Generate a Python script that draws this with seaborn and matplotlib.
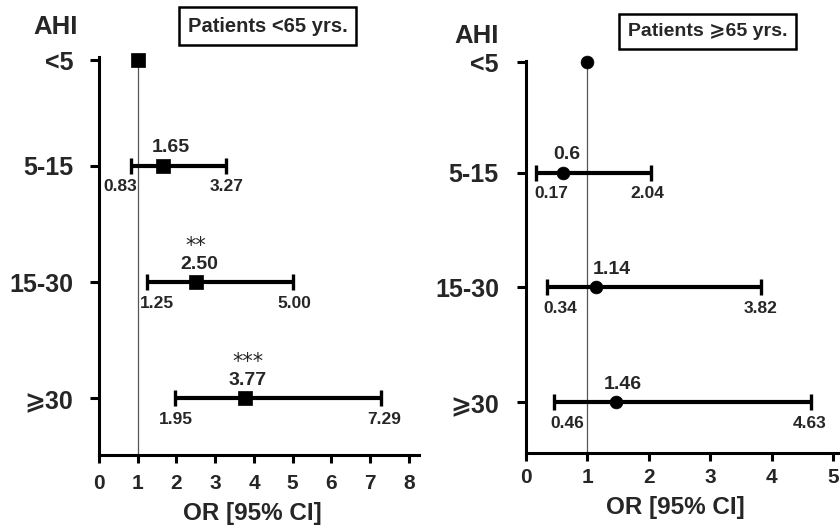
import numpy as np
import pandas as pd
import matplotlib
matplotlib.use("Agg")
import matplotlib.pyplot as plt
import seaborn as sns

# ---------------- data ----------------
categories = ['<5', '5-15', '15-30', '⩾30']

or_young = [1.00, 1.65, 2.50, 3.77]
lo_young = [np.nan, 0.83, 1.25, 1.95]
hi_young = [np.nan, 3.27, 5.00, 7.29]
or_young_txt = ['', '1.65', '2.50', '3.77']
lo_young_txt = ['', '0.83', '1.25', '1.95']
hi_young_txt = ['', '3.27', '5.00', '7.29']
stars_young = ['', '', '**', '***']

or_old = [1.00, 0.60, 1.14, 1.46]
lo_old = [np.nan, 0.17, 0.34, 0.46]
hi_old = [np.nan, 2.04, 3.82, 4.63]
or_old_txt = ['', '0.6', '1.14', '1.46']
lo_old_txt = ['', '0.17', '0.34', '0.46']
hi_old_txt = ['', '2.04', '3.82', '4.63']
stars_old = ['', '', '', '']

xticks_young = [0, 1, 2, 3, 4, 5, 6, 7, 8]
xticks_old = [0, 1, 2, 3, 4, 5]

title_young = 'Patients <65 yrs.'
title_old = 'Patients ⩾65 yrs.'

# ---------------- layout / style ----------------
# row positions on the category axis (top row sits a little lower in the figure)
rows_young = [0.09, 1, 2, 3]
rows_old = [0.04, 1, 2, 3]
# label nudges in pixels
nudge_young = dict(val=[0, 8, 3, 3], lo=[0, -11, 10, 1], hi=[0, 1, 2, 3], star=[0, 0, 0, 3])
nudge_old = dict(val=[0, 4, 16, 7], lo=[0, 15, 13, 13], hi=[0, -4, 0, -1], star=[0, 0, 0, 0])

sns.set_theme(style='ticks')
plt.rcParams['font.family'] = ['Liberation Sans', 'DejaVu Sans']
plt.rcParams['font.weight'] = 'bold'
plt.rcParams['axes.labelweight'] = 'bold'

W, H = 840, 528
fig = plt.figure(figsize=(W / 100, H / 100), dpi=100)
px = 72 / 100.0  # px -> points


def panel(ax, rows, orv, lo, hi, otxt, ltxt, htxt, stars, nudge, marker, msize,
          xlim, ylim, xticks, xtick_pad, ylab_pad, xlabel_coords):
    df = pd.DataFrame({'cat': categories, 'pos': rows,
                       'OR': orv, 'lo': lo, 'hi': hi})
    ax.set_xlim(*xlim)
    ax.set_ylim(*ylim)
    # reference line at OR = 1
    ax.vlines(1, rows[0], ylim[0], color='#555555', lw=0.9, zorder=1)
    # CI bars
    ci = df.dropna()
    ax.errorbar(ci['OR'], ci['pos'],
                xerr=[ci['OR'] - ci['lo'], ci['hi'] - ci['OR']],
                fmt='none', ecolor='black', elinewidth=3.0,
                capsize=5.5, capthick=2.4, zorder=3)
    sns.scatterplot(data=df, x='OR', y='pos', marker=marker, s=msize,
                    color='black', edgecolor='black', linewidth=0.5,
                    ax=ax, zorder=5, clip_on=False, legend=False)
    for i in range(len(categories)):
        y = rows[i]
        if otxt[i]:
            ax.annotate(otxt[i], (orv[i], y), xytext=(nudge['val'][i] * px, 13),
                        textcoords='offset points', ha='center', va='center',
                        fontsize=14, fontweight='bold')
        if ltxt[i]:
            ax.annotate(ltxt[i], (lo[i], y), xytext=(nudge['lo'][i] * px, -15),
                        textcoords='offset points', ha='center', va='center',
                        fontsize=12.5, fontweight='bold')
        if htxt[i]:
            ax.annotate(htxt[i], (hi[i], y), xytext=(nudge['hi'][i] * px, -15),
                        textcoords='offset points', ha='center', va='center',
                        fontsize=12.5, fontweight='bold')
        if stars[i]:
            ax.annotate(stars[i], (orv[i], y), xytext=(nudge['star'][i] * px, 26),
                        textcoords='offset points', ha='center', va='center',
                        fontsize=15, fontweight='normal', family='DejaVu Sans')
    ax.set_yticks(rows)
    ax.set_yticklabels(categories, fontsize=18, fontweight='bold')
    ax.set_xticks(xticks)
    ax.set_xticklabels([str(t) for t in xticks], fontsize=15, fontweight='bold')
    ax.tick_params(axis='y', width=2.2, length=6.5, color='black', pad=ylab_pad)
    ax.tick_params(axis='x', width=2.2, length=6, color='black', pad=xtick_pad)
    for s in ['top', 'right']:
        ax.spines[s].set_visible(False)
    for s in ['left', 'bottom']:
        ax.spines[s].set_linewidth(2.2)
        ax.spines[s].set_color('black')
    ax.set_facecolor('white')
    ax.set_ylabel('')
    ax.set_xlabel('OR [95% CI]', fontsize=17.5, fontweight='bold')
    ax.xaxis.label.set_va('center')
    ax.xaxis.set_label_coords(*xlabel_coords)


axL = fig.add_axes([99 / W, 1 - 455 / H, 320 / W, 398 / H])
panel(axL, rows_young, or_young, lo_young, hi_young, or_young_txt, lo_young_txt,
      hi_young_txt, stars_young, nudge_young, 's', 95, (0, 8.26), (3.487, 0.062),
      xticks_young, 8, 12, (0.478, -0.146))

axR = fig.add_axes([526 / W, 1 - 453 / H, 314 / W, 392 / H])
panel(axR, rows_old, or_old, lo_old, hi_old, or_old_txt, lo_old_txt, hi_old_txt,
      stars_old, nudge_old, 'o', 85, (0, 5.11), (3.44, 0.03), xticks_old,
      5, 13, (0.475, -0.138))

box = dict(boxstyle='square,pad=0.45', fc='white', ec='black', lw=1.8)
fig.text(267.5 / W, 1 - 26 / H, title_young, ha='center', va='center',
         fontsize=14.5, fontweight='bold', bbox=box)
fig.text(707.5 / W, 1 - 31.5 / H, title_old, ha='center', va='center',
         fontsize=14, fontweight='bold', bbox=box)
fig.text(56 / W, 1 - 27 / H, 'AHI', ha='center', va='center',
         fontsize=18.5, fontweight='bold')
fig.text(477 / W, 1 - 36 / H, 'AHI', ha='center', va='center',
         fontsize=18.5, fontweight='bold')

fig.savefig('out.png', dpi=100, facecolor='white')
